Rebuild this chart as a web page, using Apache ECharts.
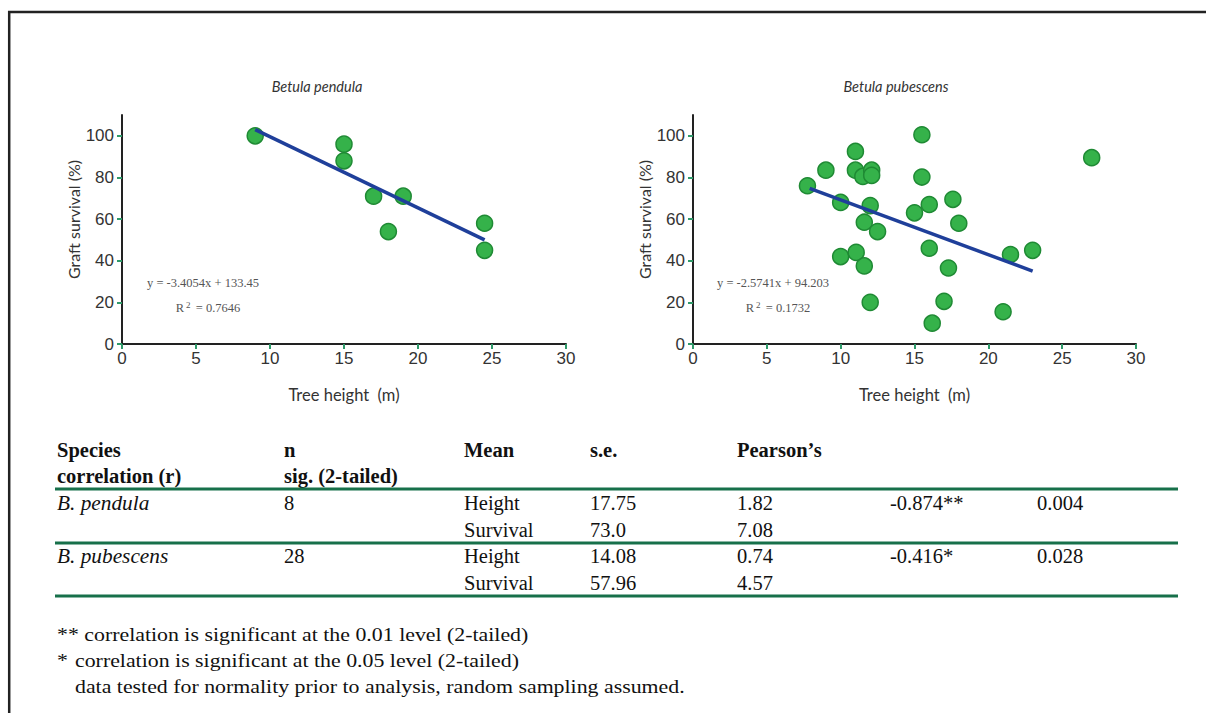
<!DOCTYPE html>
<html><head><meta charset="utf-8">
<script src="https://cdn.jsdelivr.net/npm/echarts@6/dist/echarts.min.js"></script>
<style>html,body{margin:0;padding:0;background:#fff}#chart{width:1206px;height:713px}</style>
</head><body><div id="chart"></div>
<script>
// ---------- data ----------
const xTicks = [0, 5, 10, 15, 20, 25, 30];
const yTicks = [0, 20, 40, 60, 80, 100];
const panelTitles = ['Betula pendula', 'Betula pubescens'];
const xAxisName = 'Tree height  (m)';
const yAxisName = 'Graft survival (%)';

const pendulaPoints = [[9, 100], [15, 96], [15, 88], [17, 71], [19, 71], [18, 54], [24.5, 58], [24.5, 45]];
const pendulaTrend = [[9, 103], [24.5, 50]];
const pubescensPoints = [
  [7.75, 76], [9, 83.5], [10, 68], [10, 42], [11, 92.5], [11, 83.5], [11.5, 80.5], [11.05, 44],
  [11.6, 58.5], [11.6, 37.5], [12.1, 83.5], [12.1, 81], [12, 66.5], [12, 20], [12.5, 54],
  [15.5, 100.5], [15.5, 80.2], [15, 63], [16, 67], [16, 46], [16.2, 10], [17.6, 69.5],
  [17.3, 36.5], [17, 20.5], [18, 58], [21.5, 43], [23, 45], [21, 15.5], [27, 89.5]
];
const pubescensTrend = [[7.9, 74.8], [23, 35]];
const equations = ['y = -3.4054x + 133.45', 'y = -2.5741x + 94.203'];
const rSquared = ['0.7646', '0.1732'];

const headerRow1 = ['Species', 'n', 'Mean', 's.e.', 'Pearson\u2019s'];
const headerRow2 = ['correlation (r)', 'sig. (2-tailed)'];
const species = ['B. pendula', 'B. pubescens'];
const nValues = ['8', '28'];
const measures = ['Height', 'Survival'];
const meanValues = [['17.75', '73.0'], ['14.08', '57.96']];
const seValues = [['1.82', '7.08'], ['0.74', '4.57']];
const pearsonValues = ['-0.874**', '-0.416*'];
const sigValues = ['0.004', '0.028'];
const footnotes = [
  ['**', ' correlation is significant at the 0.01 level (2-tailed)'],
  ['*', 'correlation is significant at the 0.05 level (2-tailed)'],
  ['', 'data tested for normality prior to analysis, random sampling assumed.']
];

// ---------- styles ----------
const AXIS_COLOR = '#222';
const TICK_COLOR = '#2f9a6a';
const POINT_FILL = '#35b24a';
const POINT_BORDER = '#1f8a34';
const TREND_COLOR = '#1f3f9a';
const RULE_COLOR = '#17704a';
const SERIF = '"Liberation Serif", "Times New Roman", serif';
const SANS = '"Liberation Sans", Arial, sans-serif';
const HUM = 'Lato, "Open Sans", sans-serif';

const chart = echarts.init(document.getElementById('chart'), null, {renderer: 'svg'});

const grids = [
  {left: 122, top: 115, width: 444, height: 229},
  {left: 693, top: 115, width: 443, height: 229}
];

function xAxisFor(i) {
  return {
    gridIndex: i, type: 'value', min: 0, max: 30, interval: 5,
    name: xAxisName, nameLocation: 'middle', nameGap: 42,
    nameTextStyle: {fontFamily: HUM, fontSize: 16.5, color: '#333'},
    axisLine: {show: true, onZero: false, lineStyle: {color: AXIS_COLOR, width: 2}},
    axisTick: {show: true, length: 5, lineStyle: {color: TICK_COLOR, width: 2}},
    axisLabel: {fontFamily: SANS, fontSize: 17, color: '#333', margin: 6, customValues: xTicks},
    splitLine: {show: false}
  };
}
function yAxisFor(i) {
  return {
    gridIndex: i, type: 'value', min: 0, max: 110,
    name: yAxisName, nameLocation: 'middle', nameGap: 36,
    nameTextStyle: {fontFamily: HUM, fontSize: 16, color: '#333', padding: [0, 0, 0, 20]},
    axisLine: {show: true, onZero: false, lineStyle: {color: AXIS_COLOR, width: 2}},
    axisTick: {show: true, length: 5, lineStyle: {color: TICK_COLOR, width: 2}, customValues: yTicks},
    axisLabel: {fontFamily: SANS, fontSize: 17, color: '#333', margin: 8, customValues: yTicks},
    splitLine: {show: false}
  };
}

function scatterSeries(i, pts) {
  return {
    type: 'scatter', xAxisIndex: i, yAxisIndex: i, data: pts, symbolSize: 16, z: 3,
    itemStyle: {color: POINT_FILL, borderColor: POINT_BORDER, borderWidth: 1.5, opacity: 1}
  };
}
function trendSeries(i, pts) {
  return {
    type: 'line', xAxisIndex: i, yAxisIndex: i, data: pts, showSymbol: false, z: 4,
    lineStyle: {color: TREND_COLOR, width: 3.5}, silent: true
  };
}

// ---------- graphic: titles, equations, table, footnotes, frame ----------
const g = [];
function txt(x, y, text, font, fill, align, sx) {
  g.push({type: 'text', x: x, y: y, scaleX: sx || 1, silent: true,
    style: {text: text, font: font, fill: fill || '#111', align: align || 'left', verticalAlign: 'middle'}});
}
// frame
g.push({type: 'line', shape: {x1: 8, y1: 12, x2: 1206, y2: 12}, style: {stroke: '#222', lineWidth: 2.5}});
g.push({type: 'line', shape: {x1: 9.2, y1: 11, x2: 9.2, y2: 713}, style: {stroke: '#222', lineWidth: 2.5}});

// panel titles
const titleX = [317, 896];
panelTitles.forEach((t, i) => txt(titleX[i], 86, t, 'italic 14.5px ' + HUM, '#333', 'center'));
// equations
const eqX = [203, 773];
const r2X = [208, 778];
equations.forEach((t, i) => {
  txt(eqX[i], 283, t, '12.5px ' + SERIF, '#555', 'center');
  g.push({type: 'text', x: r2X[i], y: 308, silent: true,
    style: {text: 'R{sup|2} = ' + rSquared[i], font: '12.5px ' + SERIF, fill: '#555', align: 'center', verticalAlign: 'middle',
      rich: {sup: {fontSize: 9, fill: '#555', verticalAlign: 'top', padding: [0, 2, 6, 2], fontFamily: SERIF}}}});
});

// table
const colX = [57, 284, 464, 590, 737, 890, 1037];
const F = '20.5px ' + SERIF;
const FB = 'bold 20.5px ' + SERIF;
const FI = 'italic 20.5px ' + SERIF;
headerRow1.forEach((t, i) => txt(colX[i], 450, t, FB, '#111'));
headerRow2.forEach((t, i) => txt(colX[i], 476, t, FB, '#111'));
const ruleY = [489, 543, 596];
ruleY.forEach(y => g.push({type: 'line', shape: {x1: 55, y1: y, x2: 1178, y2: y}, style: {stroke: RULE_COLOR, lineWidth: 3}}));
const rowY = [[503, 530], [556, 583]];
species.forEach((s, k) => {
  txt(colX[0], rowY[k][0], s, FI, '#111', 'left', 1.04);
  txt(colX[1], rowY[k][0], nValues[k], F, '#111');
  measures.forEach((m, j) => {
    txt(colX[2], rowY[k][j], m, F, '#111');
    txt(colX[3], rowY[k][j], meanValues[k][j], F, '#111');
    txt(colX[4], rowY[k][j], seValues[k][j], F, '#111');
  });
  txt(colX[5], rowY[k][0], pearsonValues[k], F, '#111');
  txt(colX[6], rowY[k][0], sigValues[k], F, '#111');
});
// footnotes
const fnY = [635, 661, 687];
const FN = '19px ' + SERIF;
const fnScale = 1.15;
footnotes.forEach((f, i) => {
  if (i === 0) {
    txt(57, fnY[i], f[0] + f[1], FN, '#111', 'left', fnScale);
  } else {
    if (f[0]) txt(57, fnY[i], f[0], FN, '#111', 'left', fnScale);
    txt(75, fnY[i], f[1], FN, '#111', 'left', fnScale);
  }
});

chart.setOption({
  backgroundColor: '#fff',
  animation: false,
  grid: grids,
  xAxis: [xAxisFor(0), xAxisFor(1)],
  yAxis: [yAxisFor(0), yAxisFor(1)],
  series: [
    scatterSeries(0, pendulaPoints), trendSeries(0, pendulaTrend),
    scatterSeries(1, pubescensPoints), trendSeries(1, pubescensTrend)
  ],
  graphic: g
});
</script></body></html>
